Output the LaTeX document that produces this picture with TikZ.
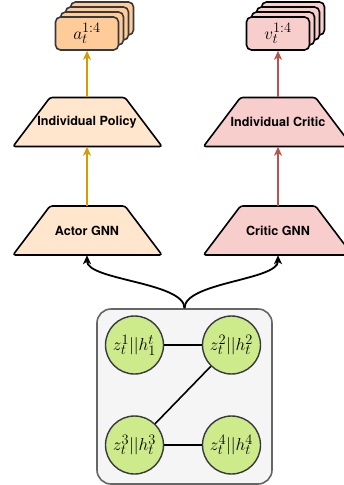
\documentclass[tikz,border=0pt]{standalone}
\usepackage{fontspec}
\newfontfamily\helv{TeX Gyre Heros}
\usetikzlibrary{arrows.meta}
\definecolor{polfill}{HTML}{FFE6CC}
\definecolor{crifill}{HTML}{F8CECC}
\definecolor{actfill}{HTML}{FFCC99}
\definecolor{actline}{HTML}{D79B00}
\definecolor{criline}{HTML}{B85450}
\definecolor{grpfill}{HTML}{F5F5F5}
\definecolor{grpline}{HTML}{666666}
\definecolor{agfill}{HTML}{CDEB8B}
\definecolor{agline}{HTML}{36393D}
\begin{document}
\begin{tikzpicture}[x=1pt,y=-1pt,
 trapdraw/.style={draw=black, line width=1.6pt, rounded corners=2.5pt},
 traptext/.style={rectangle, minimum width=75pt, minimum height=49pt, inner sep=0pt, font=\helv\bfseries\fontsize{12.6}{15}\selectfont},
 outbox/.style={rectangle, rounded corners=5pt, line width=1.6pt, minimum width=63pt, minimum height=33pt, inner sep=0pt, font=\fontsize{19}{22}\selectfont},
 agent/.style={circle, draw=agline, fill=agfill, line width=1.4pt, minimum size=58pt, inner sep=0pt, font=\fontsize{19}{22}\selectfont},
 grpbox/.style={rectangle, draw=grpline, fill=grpfill, line width=1.6pt, rounded corners=14pt, minimum width=175pt, minimum height=175pt},
 arr/.style={line width=1.8pt, -{Stealth[length=9pt,width=8pt,inset=2.5pt]}},
 link/.style={line width=1.6pt}]
\useasboundingbox (0,0) rectangle (344,485);
\clip (0,0) rectangle (344,485);

% trapezoids
\draw[trapdraw, fill=polfill] (50,206) -- (125,206) -- (162,255) -- (13,255) -- cycle;
\draw[trapdraw, fill=polfill] (50,97.5) -- (125,97.5) -- (162,146.5) -- (13,146.5) -- cycle;
\draw[trapdraw, fill=crifill] (240.5,206) -- (315.5,206) -- (352.5,255) -- (203.5,255) -- cycle;
\draw[trapdraw, fill=crifill] (240.5,97.5) -- (315.5,97.5) -- (352.5,146.5) -- (203.5,146.5) -- cycle;
\node[traptext] (actgnn) at (87,230.5) {Actor GNN};
\node[traptext] (indpol) at (87,122) {Individual Policy};
\node[traptext] (crgnn) at (278,230.5) {Critic GNN};
\node[traptext] (indcr) at (278,122) {Individual Critic};

% output stacks
\foreach \i in {3,2,1} {
  \node[outbox, draw=agline, fill=actfill] (a\i) at (87+5*\i,33.5-5*\i) {};
  \node[outbox, draw=black, fill=crifill] (v\i) at (278+5*\i,33.5-5*\i) {};
}
\node[outbox, draw=agline, fill=actfill] (a0) at (87,33.5) {$a_t^{1:4}$};
\node[outbox, draw=black, fill=crifill] (v0) at (278,33.5) {$v_t^{1:4}$};

% vertical arrows
\draw[arr, actline] (actgnn.north) -- (indpol.south);
\draw[arr, actline] (indpol.north) -- (a0.south);
\draw[arr, criline] (crgnn.north) -- (indcr.south);
\draw[arr, criline] (indcr.north) -- (v0.south);

% group of agents
\node[grpbox] (grp) at (184.5,396.5) {};
\node[agent] (z1) at (134.5,345) {$z_t^1||h_1^t$};
\node[agent] (z2) at (231.5,345) {$z_t^2||h_t^2$};
\node[agent] (z3) at (134.5,445) {$z_t^3||h_t^3$};
\node[agent] (z4) at (231.5,445) {$z_t^4||h_t^4$};
\draw[link] (z1) -- (z2);
\draw[link] (z2) -- (z3);
\draw[link] (z3) -- (z4);

% curved arrows
\draw[arr] (grp.north) .. controls +(0,-26) and +(0,25) .. (actgnn.south);
\draw[arr] (grp.north) .. controls +(0,-26) and +(0,25) .. (crgnn.south);
\end{tikzpicture}
\end{document}
